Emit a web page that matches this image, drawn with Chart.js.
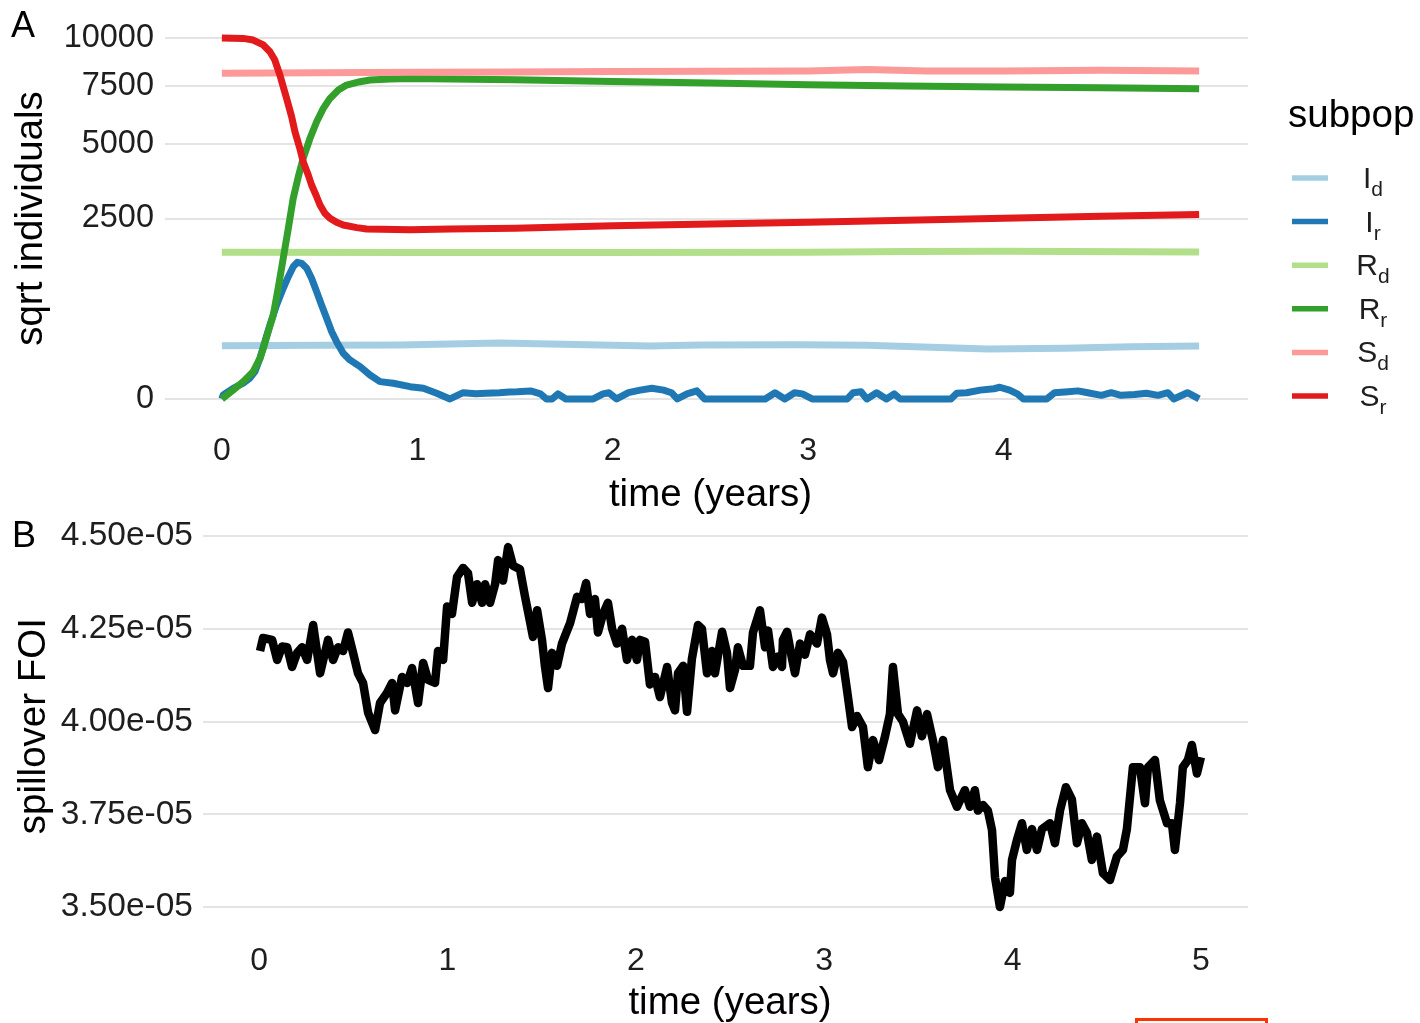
<!DOCTYPE html>
<html>
<head>
<meta charset="utf-8">
<script src="https://cdn.jsdelivr.net/npm/chart.js@4/dist/chart.umd.min.js"></script>
<style>
  html, body { margin: 0; padding: 0; background: #fff; overflow: hidden; }
  body { width: 1420px; height: 1023px; position: relative; }
  #chartA { position: absolute; left: 0; top: 0; }
  #chartB { position: absolute; left: 0; top: 520px; }
  #mark { position: absolute; left: 1135px; top: 1018px; width: 127px; height: 20px; border: 3px solid #ff3300; }
</style>
</head>
<body>
<canvas id="chartA" width="1420" height="520"></canvas>
<canvas id="chartB" width="1420" height="503"></canvas>
<div id="mark"></div>
<script>
// ---- panel A : subpopulations, time in years, individuals (sqrt axis) ----
const subpopMain = ['I', 'I', 'R', 'R', 'S', 'S'];
const subpopSub = ['d', 'r', 'd', 'r', 'd', 'r'];
const subpopColors = ['#a6cee3', '#1f78b4', '#b2df8a', '#33a02c', '#fb9a99', '#e31a1c'];

const idTime = [0, 0.5, 0.91, 1.42, 1.68, 2.19, 2.45, 2.96, 3.3, 3.63, 3.92, 4.31, 4.65, 5.0];
const idValue = [218, 222, 224, 240, 231, 215, 224, 226, 222, 205, 192, 197, 210, 215];

const irTime = [0, 0.007, 0.058, 0.109, 0.143, 0.169, 0.195, 0.220, 0.246, 0.280, 0.314, 0.340, 0.365, 0.386, 0.408, 0.434,
  0.459, 0.485, 0.510, 0.536, 0.562, 0.587, 0.621, 0.655, 0.707, 0.758, 0.809, 0.877, 0.963, 1.031, 1.099, 1.167,
  1.235, 1.30, 1.35, 1.42, 1.47, 1.51, 1.58, 1.63, 1.66, 1.69, 1.72, 1.76, 1.90, 1.95, 1.98, 2.02, 2.08, 2.14, 2.20,
  2.26, 2.30, 2.33, 2.38, 2.43, 2.47, 2.60, 2.78, 2.83, 2.88, 2.93, 2.97, 3.02, 3.20, 3.23, 3.27, 3.30, 3.35, 3.40,
  3.44, 3.47, 3.73, 3.76, 3.81, 3.88, 3.95, 3.98, 4.03, 4.07, 4.10, 4.22, 4.26, 4.33, 4.38, 4.43, 4.50, 4.55, 4.60,
  4.67, 4.73, 4.79, 4.84, 4.87, 4.94, 5.0];
const irValue = [0, 1.2, 8.7, 19, 33, 57, 127, 252, 420, 678, 940, 1148, 1342, 1434, 1412, 1310,
  1117, 883, 678, 500, 347, 252, 160, 117, 80, 44, 23, 19, 11.6, 8.7, 2.5, 0,
  3, 2, 2.5, 3, 3.8, 4, 4.9, 2, 0, 0, 2, 0, 0, 2, 3, 0, 3, 6, 8.7,
  6, 3, 0, 2, 5, 0, 0, 0, 3, 0, 3, 2, 0, 0, 3, 4, 0, 3, 0,
  2, 0, 0, 2.5, 3, 6, 8, 10.5, 6, 2, 0, 0, 3, 4, 5, 3, 1, 3, 1,
  1.5, 2.5, 1, 3, 0, 3, 0];

const rdTime = [0, 1, 2, 3, 3.5, 4, 5];
const rdValue = [1650, 1645, 1648, 1650, 1670, 1675, 1660];

const rrTime = [0, 0.058, 0.109, 0.160, 0.195, 0.212, 0.237, 0.263, 0.288, 0.314, 0.340, 0.365, 0.391, 0.416, 0.451,
  0.485, 0.519, 0.553, 0.596, 0.638, 0.707, 0.758, 0.860, 0.963, 1.167, 1.5, 2.0, 2.5, 3.0, 3.5, 4.0, 4.5, 5.0];
const rrValue = [0, 6.2, 23, 57, 127, 197, 347, 541, 940, 1520, 2236, 3090, 3790, 4446, 5216,
  5900, 6482, 6935, 7326, 7565, 7726, 7810, 7857, 7888, 7857, 7820, 7740, 7660, 7580, 7520, 7470, 7430, 7390];

const sdTime = [0, 0.5, 1, 1.5, 2, 2.5, 3, 3.3, 3.6, 4, 4.5, 5];
const sdValue = [8150, 8170, 8190, 8210, 8230, 8240, 8260, 8330, 8260, 8260, 8290, 8260];

const srTime = [0, 0.109, 0.160, 0.212, 0.246, 0.271, 0.297, 0.314, 0.331, 0.357, 0.374, 0.399, 0.416, 0.442, 0.459,
  0.485, 0.502, 0.527, 0.553, 0.587, 0.621, 0.690, 0.741, 0.963, 1.167, 1.5, 2.0, 2.5, 3.0, 3.5, 4.0, 4.5, 5.0];
const srValue = [10000, 9980, 9890, 9620, 9255, 8818, 8055, 7484, 6939, 6115, 5479, 4819, 4320, 3850, 3514,
  3140, 2888, 2645, 2505, 2395, 2323, 2253, 2218, 2200, 2218, 2240, 2300, 2350, 2400, 2450, 2510, 2560, 2610];

const aXTicks = [0, 1, 2, 3, 4];
const aYTicks = [0, 2500, 5000, 7500, 10000];

// ---- panel B : spillover force of infection (values in units of 1e-5) ----
const foiTime = [0.005, 0.021, 0.069, 0.096, 0.122, 0.149, 0.175, 0.202, 0.228, 0.255, 0.287, 0.324, 0.366, 0.393,
  0.419, 0.446, 0.472, 0.499, 0.525, 0.552, 0.579, 0.616, 0.642, 0.679, 0.706, 0.722, 0.759, 0.786, 0.812, 0.844,
  0.871, 0.897, 0.934, 0.950, 0.977, 0.998, 1.024, 1.051, 1.083, 1.109, 1.131, 1.157, 1.184, 1.200, 1.226, 1.253,
  1.269, 1.295, 1.322, 1.348, 1.385, 1.412, 1.438, 1.454, 1.476, 1.502, 1.518, 1.534, 1.555, 1.582, 1.608, 1.651,
  1.688, 1.714, 1.736, 1.757, 1.783, 1.799, 1.826, 1.852, 1.874, 1.900, 1.927, 1.953, 1.980, 2.006, 2.022, 2.049,
  2.075, 2.102, 2.128, 2.166, 2.192, 2.208, 2.224, 2.251, 2.272, 2.298, 2.330, 2.351, 2.378, 2.404, 2.420, 2.458,
  2.484, 2.500, 2.527, 2.542, 2.569, 2.606, 2.622, 2.659, 2.686, 2.702, 2.728, 2.755, 2.776, 2.781, 2.803, 2.829,
  2.845, 2.872, 2.898, 2.925, 2.962, 2.988, 3.015, 3.031, 3.047, 3.073, 3.100, 3.121, 3.148, 3.174, 3.206, 3.232,
  3.259, 3.291, 3.323, 3.349, 3.365, 3.392, 3.418, 3.455, 3.493, 3.519, 3.546, 3.577, 3.604, 3.631, 3.668, 3.705,
  3.747, 3.774, 3.800, 3.816, 3.843, 3.869, 3.891, 3.907, 3.933, 3.960, 3.986, 3.997, 4.023, 4.050, 4.076, 4.103,
  4.130, 4.156, 4.199, 4.225, 4.252, 4.283, 4.315, 4.342, 4.368, 4.395, 4.421, 4.448, 4.480, 4.517, 4.554, 4.586,
  4.607, 4.639, 4.676, 4.703, 4.719, 4.756, 4.782, 4.820, 4.846, 4.862, 4.889, 4.904, 4.931, 4.952, 4.979, 5.000];
const foiValue = [4.19, 4.225, 4.22, 4.166, 4.202, 4.20, 4.147, 4.185, 4.20, 4.166, 4.26, 4.13, 4.22, 4.166,
  4.20, 4.19, 4.24, 4.185, 4.13, 4.104, 4.023, 3.977, 4.05, 4.077, 4.104, 4.03, 4.12, 4.104, 4.144, 4.05,
  4.158, 4.112, 4.104, 4.19, 4.166, 4.31, 4.29, 4.39, 4.414, 4.40, 4.32, 4.37, 4.32, 4.37, 4.32, 4.37,
  4.435, 4.38, 4.47, 4.42, 4.41, 4.336, 4.27, 4.228, 4.30, 4.22, 4.147, 4.09, 4.185, 4.15, 4.21, 4.265,
  4.336, 4.33, 4.373, 4.29, 4.33, 4.24, 4.29, 4.32, 4.25, 4.21, 4.25, 4.166, 4.22, 4.166, 4.22, 4.215,
  4.10, 4.12, 4.066, 4.147, 4.05, 4.03, 4.13, 4.15, 4.026, 4.17, 4.26, 4.25, 4.13, 4.19, 4.13, 4.242,
  4.185, 4.09, 4.14, 4.20, 4.15, 4.15, 4.24, 4.30, 4.20, 4.245, 4.147, 4.175, 4.147, 4.22, 4.242, 4.17,
  4.13, 4.21, 4.18, 4.235, 4.21, 4.28, 4.235, 4.165, 4.13, 4.185, 4.16, 4.085, 3.985, 4.015, 3.985, 3.877,
  3.95, 3.896, 3.96, 4.02, 4.147, 4.02, 4.00, 3.94, 4.03, 3.96, 4.02, 3.95, 3.877, 3.95, 3.815, 3.77,
  3.815, 3.77, 3.815, 3.76, 3.775, 3.76, 3.707, 3.58, 3.50, 3.57, 3.538, 3.627, 3.68, 3.726, 3.654, 3.71,
  3.654, 3.71, 3.726, 3.672, 3.76, 3.823, 3.79, 3.672, 3.726, 3.70, 3.627, 3.69, 3.591, 3.573, 3.636, 3.654,
  3.71, 3.877, 3.877, 3.78, 3.877, 3.896, 3.788, 3.726, 3.726, 3.654, 3.78, 3.877, 3.896, 3.937, 3.86, 3.904];

const bXTicks = [0, 1, 2, 3, 4, 5];
const bYTicks = [3.5e-5, 3.75e-5, 4.0e-5, 4.25e-5, 4.5e-5];
const bYTickLabels = ['3.50e-05', '3.75e-05', '4.00e-05', '4.25e-05', '4.50e-05'];

const FONT = '"Liberation Sans", Arial, Helvetica, sans-serif';
Chart.defaults.font.family = FONT;
Chart.defaults.color = '#1e1e1e';

// square-root axis (like ggplot's scale_y_sqrt), signed so the expansion below 0 works
const sgnSqrt = v => Math.sign(v) * Math.sqrt(Math.abs(v));
class SqrtScale extends Chart.LinearScale {
  configure() {
    super.configure();
    this._startValue = sgnSqrt(this.min);
    this._valueRange = sgnSqrt(this.max) - this._startValue;
  }
  getPixelForValue(value) {
    if (value === null || value === undefined || isNaN(value)) return NaN;
    return this.getPixelForDecimal((sgnSqrt(value) - this._startValue) / this._valueRange);
  }
  getValueForPixel(pixel) {
    const s = this._startValue + this.getDecimalForPixel(pixel) * this._valueRange;
    return Math.sign(s) * s * s;
  }
}
SqrtScale.id = 'sqrt';
SqrtScale.defaults = {};
Chart.register(SqrtScale);

const gridColor = '#e4e4e4';

// fixed axis boxes so both panels line up like the original figure
const fixWidth = w => s => { s.width = w; s.paddingTop = 0; s.paddingBottom = 0; };
const fixHeight = h => s => { s.height = h; s.paddingLeft = 0; s.paddingRight = 0; };

function panelTag(text, x, y) {
  return {
    id: 'tag' + text,
    afterDraw(chart) {
      const ctx = chart.ctx;
      ctx.save();
      ctx.font = '36px ' + FONT;
      ctx.fillStyle = '#000';
      ctx.textBaseline = 'middle';
      ctx.textAlign = 'left';
      ctx.fillText(text, x, y);
      ctx.restore();
    }
  };
}

// legend with subscripts (I_d, I_r ...)
const subpopLegend = {
  id: 'subpopLegend',
  afterDraw(chart) {
    const ctx = chart.ctx;
    ctx.save();
    ctx.fillStyle = '#000';
    ctx.textBaseline = 'alphabetic';
    ctx.textAlign = 'left';
    ctx.font = '38.5px ' + FONT;
    ctx.fillText('subpop', 1288, 127);
    subpopMain.forEach((m, i) => {
      const y = 178 + i * 43.6;
      ctx.strokeStyle = subpopColors[i];
      ctx.lineWidth = 5.5;
      ctx.beginPath();
      ctx.moveTo(1292, y);
      ctx.lineTo(1328, y);
      ctx.stroke();
      ctx.fillStyle = '#1e1e1e';
      ctx.font = '30px ' + FONT;
      const wm = ctx.measureText(m).width;
      ctx.font = '21px ' + FONT;
      const ws = ctx.measureText(subpopSub[i]).width;
      const x0 = 1373 - (wm + ws) / 2;
      ctx.font = '30px ' + FONT;
      ctx.fillText(m, x0, y + 10);
      ctx.font = '21px ' + FONT;
      ctx.fillText(subpopSub[i], x0 + wm, y + 18);
    });
    ctx.restore();
  }
};

const seriesA = [[idTime, idValue], [irTime, irValue], [rdTime, rdValue], [rrTime, rrValue], [sdTime, sdValue], [srTime, srValue]];

new Chart(document.getElementById('chartA'), {
  type: 'line',
  data: {
    datasets: seriesA.map(([t, v], i) => ({
      label: subpopMain[i] + subpopSub[i],
      data: t.map((x, k) => ({ x: x, y: v[k] })),
      borderColor: subpopColors[i],
      borderWidth: 7,
      borderCapStyle: 'butt',
      borderJoinStyle: 'round',
      pointRadius: 0,
      tension: 0,
      order: 6 - i
    }))
  },
  options: {
    responsive: false,
    animation: false,
    layout: { padding: { left: 0, top: 20, right: 172, bottom: 0 } },
    plugins: { legend: { display: false }, tooltip: { enabled: false } },
    scales: {
      x: {
        type: 'linear', min: -0.25, max: 5.25, bounds: 'data',
        afterBuildTicks: s => { s.ticks = aXTicks.map(v => ({ value: v })); },
        afterFit: fixHeight(103),
        grid: { display: false, drawTicks: false },
        border: { display: false },
        ticks: { font: { size: 32 }, padding: 15, autoSkip: false, maxRotation: 0, callback: v => String(v) },
        title: { display: true, text: 'time (years)', color: '#000', font: { size: 38.5 }, padding: { top: 0, bottom: 2 } }
      },
      y: {
        type: 'sqrt', min: -25, max: 11025, bounds: 'data',
        afterBuildTicks: s => { s.ticks = aYTicks.map(v => ({ value: v })); },
        afterFit: fixWidth(173),
        grid: { color: gridColor, lineWidth: 2, drawTicks: true, tickLength: 8, tickColor: gridColor },
        border: { display: false },
        ticks: { font: { size: 32.5 }, padding: 11, autoSkip: false, callback: v => String(v) },
        title: { display: true, text: 'sqrt individuals', color: '#000', font: { size: 38.5 }, padding: { top: 8, bottom: 0 } }
      }
    }
  },
  plugins: [panelTag('A', 11, 27), subpopLegend]
});

new Chart(document.getElementById('chartB'), {
  type: 'line',
  data: {
    datasets: [{
      label: 'spillover FOI',
      data: foiTime.map((x, k) => ({ x: x, y: foiValue[k] * 1e-5 })),
      borderColor: '#000',
      borderWidth: 8.5,
      borderCapStyle: 'butt',
      borderJoinStyle: 'round',
      pointRadius: 0,
      tension: 0
    }]
  },
  options: {
    responsive: false,
    animation: false,
    layout: { padding: { left: 0, top: 6.7, right: 172, bottom: 0 } },
    plugins: { legend: { display: false }, tooltip: { enabled: false } },
    scales: {
      x: {
        type: 'linear', min: -0.25, max: 5.25, bounds: 'data',
        afterBuildTicks: s => { s.ticks = bXTicks.map(v => ({ value: v })); },
        afterFit: fixHeight(97.4),
        grid: { display: false, drawTicks: false },
        border: { display: false },
        ticks: { font: { size: 32 }, padding: 16, autoSkip: false, maxRotation: 0, callback: v => String(v) },
        title: { display: true, text: 'time (years)', color: '#000', font: { size: 38.5 }, padding: { top: 0, bottom: -3 } }
      },
      y: {
        type: 'linear', min: 3.45e-5, max: 4.525e-5, bounds: 'data',
        afterBuildTicks: s => { s.ticks = bYTicks.map(v => ({ value: v })); },
        afterFit: fixWidth(212),
        grid: { color: gridColor, lineWidth: 2, drawTicks: true, tickLength: 9, tickColor: gridColor },
        border: { display: false },
        ticks: { font: { size: 33.5 }, padding: 10, autoSkip: false, callback: (v, i) => bYTickLabels[i] },
        title: { display: true, text: 'spillover FOI', color: '#000', font: { size: 38.5 }, padding: { top: 11, bottom: 0 } }
      }
    }
  },
  plugins: [panelTag('B', 12, 537 - 520)]
});
</script>
</body>
</html>
